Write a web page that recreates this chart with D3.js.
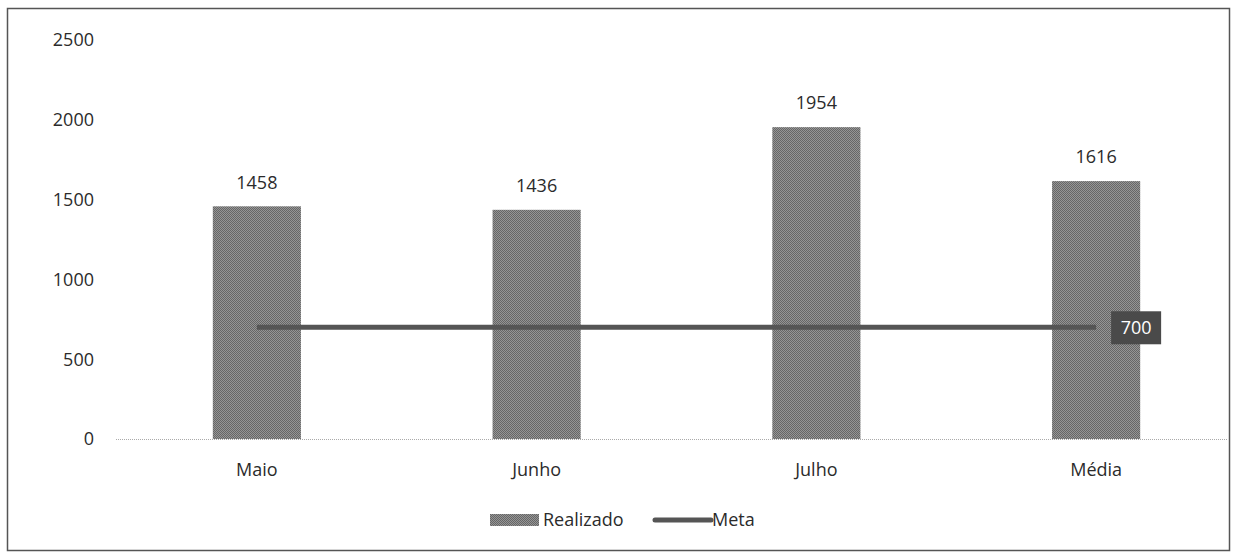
<!DOCTYPE html>
<meta charset="utf-8" />
<script src="https://d3js.org/d3.v7.min.js"></script>
<style>
  body { margin: 0; background: #fff; }
  text { font-family: "Open Sans", "Liberation Sans", sans-serif; fill: #2b2b2b; }
</style>
<body>
<div id="chart"></div>
<script>
  // data
  var categories = ["Maio", "Junho", "Julho", "Média"];
  var realizado = [1458, 1436, 1954, 1616];
  var meta = [700, 700, 700, 700];
  var yTicks = [0, 500, 1000, 1500, 2000, 2500];

  var width = 1235, height = 554;
  var fs = "18px";
  var svg = d3.select("#chart").append("svg")
    .attr("width", width).attr("height", height);

  // halftone-ish fill like the scan
  var defs = svg.append("defs");
  var pat = defs.append("pattern").attr("id", "dots")
    .attr("width", 2).attr("height", 2).attr("patternUnits", "userSpaceOnUse");
  pat.append("rect").attr("width", 2).attr("height", 2).attr("fill", "#959595");
  pat.append("rect").attr("width", 1).attr("height", 1).attr("fill", "#666");
  pat.append("rect").attr("x", 1).attr("y", 1).attr("width", 1).attr("height", 1).attr("fill", "#666");

  // frame
  svg.append("rect")
    .attr("x", 7.5).attr("y", 8.5).attr("width", 1222).attr("height", 542)
    .attr("fill", "none").attr("stroke", "#555").attr("stroke-width", 1.5);

  var x = d3.scaleBand().domain(categories).range([117, 1236]).paddingInner(0.685).paddingOuter(0.3425);
  var y = d3.scaleLinear().domain([0, 2500]).range([439, 40]);

  // y tick labels
  svg.append("g").selectAll("text").data(yTicks).enter().append("text")
    .attr("x", 94).attr("y", function (d) { return y(d); })
    .attr("dy", "0.35em").attr("text-anchor", "end")
    .style("font-size", fs)
    .text(function (d) { return d; });

  // bars
  svg.append("g").selectAll("rect").data(realizado).enter().append("rect")
    .attr("x", function (d, i) { return x(categories[i]); })
    .attr("y", function (d) { return y(d); })
    .attr("width", x.bandwidth())
    .attr("height", function (d) { return y(0) - y(d); })
    .attr("fill", "url(#dots)");

  // baseline
  svg.append("line")
    .attr("x1", 116).attr("x2", 1228).attr("y1", y(0) + 0.5).attr("y2", y(0) + 0.5)
    .attr("stroke", "#aaa").attr("stroke-width", 1).attr("stroke-dasharray", "1,1");

  // bar value labels
  svg.append("g").selectAll("text").data(realizado).enter().append("text")
    .attr("x", function (d, i) { return x(categories[i]) + x.bandwidth() / 2; })
    .attr("y", function (d) { return y(d) - 24; })
    .attr("dy", "0.35em").attr("text-anchor", "middle")
    .style("font-size", fs)
    .text(function (d) { return d; });

  // x labels
  svg.append("g").selectAll("text").data(categories).enter().append("text")
    .attr("x", function (d) { return x(d) + x.bandwidth() / 2; })
    .attr("y", 470).attr("dy", "0.35em").attr("text-anchor", "middle")
    .style("font-size", fs)
    .text(function (d) { return d; });

  // meta line
  var line = d3.line()
    .x(function (d, i) { return x(categories[i]) + x.bandwidth() / 2; })
    .y(function (d) { return y(d); });
  svg.append("path").datum(meta)
    .attr("d", line).attr("fill", "none")
    .attr("stroke", "#555").attr("stroke-width", 5);

  // meta label box on last point
  var last = meta.length - 1;
  var lx = x(categories[last]) + x.bandwidth() / 2 + 15;
  var ly = y(meta[last]);
  svg.append("rect").attr("x", lx).attr("y", ly - 16).attr("width", 50).attr("height", 33)
    .attr("fill", "#4a4a4a");
  svg.append("text").attr("x", lx + 25).attr("y", ly).attr("dy", "0.35em")
    .attr("text-anchor", "middle").style("font-size", fs).style("fill", "#fff")
    .text(meta[last]);

  // legend
  var leg = svg.append("g");
  leg.append("rect").attr("x", 490).attr("y", 514).attr("width", 49).attr("height", 12).attr("fill", "url(#dots)");
  leg.append("text").attr("x", 543).attr("y", 520).attr("dy", "0.35em").style("font-size", fs).text("Realizado");
  leg.append("line").attr("x1", 655).attr("x2", 711).attr("y1", 520).attr("y2", 520)
    .attr("stroke", "#555").attr("stroke-width", 5).attr("stroke-linecap", "round");
  leg.append("text").attr("x", 712).attr("y", 520).attr("dy", "0.35em").style("font-size", fs).text("Meta");
</script>
</body>
